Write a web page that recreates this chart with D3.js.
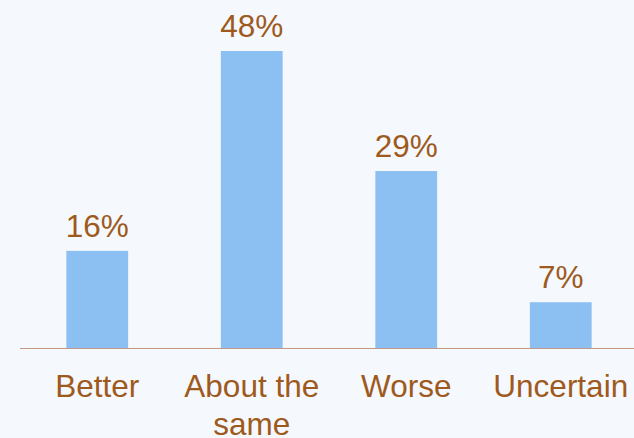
<!DOCTYPE html>
<html>
<head>
<meta charset="utf-8">
<script src="https://cdn.jsdelivr.net/npm/d3@7/dist/d3.min.js"></script>
<style>
  html, body { margin: 0; padding: 0; background: #F5F8FD; }
  svg { display: block; }
</style>
</head>
<body>
<script>
const categories = ["Better", "About the|same", "Worse", "Uncertain"];
const values = [15.7, 48, 28.6, 7.4];
const valueLabels = ["16%", "48%", "29%", "7%"];

const W = 634, H = 438;
const svg = d3.select("body").append("svg").attr("width", W).attr("height", H);
svg.append("rect").attr("width", W).attr("height", H).attr("fill", "#F5F8FD");

const baseline = 348;
const x = d3.scaleBand().domain(categories).range([20, 638]).paddingInner(0.6).paddingOuter(0.3);
const y = d3.scaleLinear().domain([0, 48]).range([baseline, 51]);

const textColor = "#9E5A1C";
const font = "'Liberation Sans', Arial, sans-serif";

svg.selectAll("rect.bar").data(values).enter().append("rect")
  .attr("class", "bar")
  .attr("x", (d, i) => x(categories[i]))
  .attr("width", x.bandwidth())
  .attr("y", d => y(d))
  .attr("height", d => baseline - y(d))
  .attr("fill", "#8DC0F2");

svg.selectAll("text.val").data(values).enter().append("text")
  .attr("class", "val")
  .attr("x", (d, i) => x(categories[i]) + x.bandwidth() / 2)
  .attr("y", d => y(d) - 14)
  .attr("text-anchor", "middle")
  .attr("font-family", font)
  .attr("font-size", 31.5)
  .attr("fill", textColor)
  .text((d, i) => valueLabels[i]);

const axis = d3.axisBottom(x).tickSize(0).tickPadding(0);
const g = svg.append("g").attr("transform", `translate(0,${baseline})`).call(axis);
g.select(".domain").attr("stroke", "#C39A86").attr("stroke-width", 1.2).attr("d", "M20,0.5H634");
g.selectAll(".tick text").each(function(d) {
  const t = d3.select(this);
  t.text(null).attr("y", 0).attr("dy", null)
    .attr("font-family", font).attr("font-size", 31.5).attr("fill", textColor);
  d.split("|").forEach((line, i) => {
    t.append("tspan").attr("x", 0).attr("y", 49 + i * 38).text(line);
  });
});
</script>
</body>
</html>
